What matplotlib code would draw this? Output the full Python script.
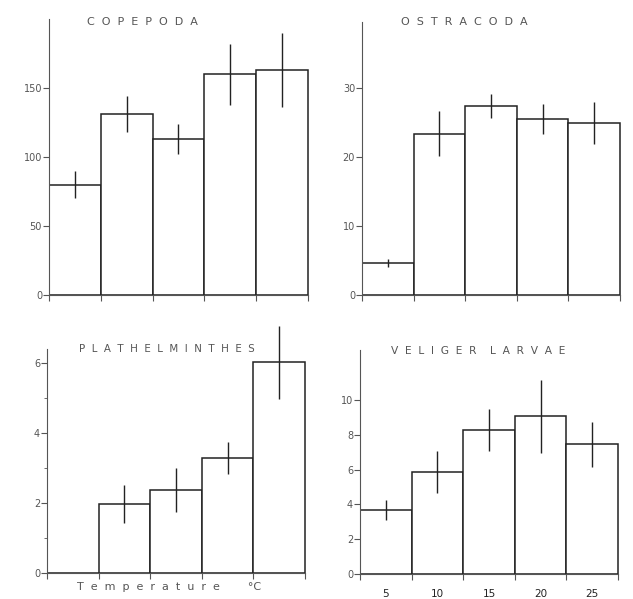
import matplotlib
matplotlib.use("Agg")
import matplotlib.pyplot as plt

# temperature classes (deg C), bar centres
temps = [5, 10, 15, 20, 25]
edges = [2.5, 7.5, 12.5, 17.5, 22.5, 27.5]

copepoda = [80, 131, 113, 160, 163]
copepoda_err = [10, 13, 11, 22, 27]

ostracoda = [4.6, 23.4, 27.4, 25.5, 24.9]
ostracoda_err = [0.6, 3.3, 1.8, 2.2, 3.0]

plathel = [0.0, 1.97, 2.37, 3.29, 6.03]
plathel_err = [0.0, 0.55, 0.63, 0.47, 1.05]

veliger = [3.68, 5.86, 8.28, 9.08, 7.47]
veliger_err = [0.55, 1.2, 1.2, 2.1, 1.3]

grey = "#555555"
ink = "#222222"

fig = plt.figure(figsize=(6.33, 5.99), dpi=100)
fig.patch.set_facecolor("white")

# axes boxes [left, bottom, width, height] in figure fractions
boxes = {
    "cope": [0.0774, 0.5075, 0.4123, 0.4608],
    "ostr": [0.5719, 0.5075, 0.4107, 0.4608],
    "plat": [0.0742, 0.0434, 0.4108, 0.4258],
    "veli": [0.5687, 0.0417, 0.4108, 0.3773],
}


def spaced(text):
    # wide letter spacing like the typed original
    return "    ".join("  ".join(w) for w in text.split())


def draw_panel(ax, vals, errs, ylim, yticks, spine_top, title, tx, ty,
               minor=None, tsize=8):
    ax.bar(temps, vals, width=5, facecolor="white", edgecolor=ink,
           linewidth=1.1, zorder=2)
    ax.errorbar(temps, vals, yerr=errs, fmt="none", ecolor=ink,
                elinewidth=1.0, capsize=0, zorder=3)
    ax.set_xlim(edges[0], edges[-1] + 0.2)
    ax.set_ylim(*ylim)
    ax.set_yticks(yticks)
    if minor is not None:
        ax.set_yticks(minor, minor=True)
        ax.tick_params(axis="y", which="minor", length=2, color=grey)
    ax.set_xticks(edges)
    ax.set_xticklabels([])
    for s in ["top", "right"]:
        ax.spines[s].set_visible(False)
    ax.spines["left"].set_bounds(0, spine_top)
    ax.spines["left"].set_color(grey)
    ax.spines["left"].set_linewidth(0.8)
    ax.spines["bottom"].set_color(grey)
    ax.spines["bottom"].set_linewidth(0.8)
    ax.spines["bottom"].set_bounds(edges[0], edges[-1])
    ax.tick_params(axis="y", which="major", length=4, width=0.8, color=grey,
                   labelcolor=grey, labelsize=7, pad=1)
    ax.tick_params(axis="x", which="major", length=4, width=0.8, color=grey)
    ax.patch.set_alpha(0)
    ax.text(tx, ty, spaced(title), ha="center", va="center", fontsize=tsize,
            color=grey)


ax1 = fig.add_axes(boxes["cope"])
draw_panel(ax1, copepoda, copepoda_err, (0, 200), [0, 50, 100, 150], 200,
           "COPEPODA", 11.5, 198)

ax2 = fig.add_axes(boxes["ostr"])
draw_panel(ax2, ostracoda, ostracoda_err, (0, 40), [0, 10, 20, 30], 39.5,
           "OSTRACODA", 12.4, 39.6)

ax3 = fig.add_axes(boxes["plat"])
draw_panel(ax3, plathel, plathel_err, (0, 7.3), [0, 2, 4, 6], 6.4,
           "PLATHELMINTHES", 14.1, 6.4, minor=[1, 3, 5], tsize=7.4)
ax3.set_xlabel(spaced("Temperature") + "        \u00b0C", fontsize=8,
               color=grey)
ax3.xaxis.set_label_coords(0.47, -0.035)

ax4 = fig.add_axes(boxes["veli"])
draw_panel(ax4, veliger, veliger_err, (0, 13), [0, 2, 4, 6, 8, 10], 12.9,
           "VELIGER LARVAE", 14.0, 12.8, tsize=7.7)
ax4.set_xticks(temps, minor=True)
ax4.set_xticklabels([str(t) for t in temps], minor=True)
ax4.tick_params(axis="x", which="minor", length=0, labelsize=7.5,
                labelcolor=ink, pad=11)

fig.savefig("out.png", dpi=100, facecolor="white")
